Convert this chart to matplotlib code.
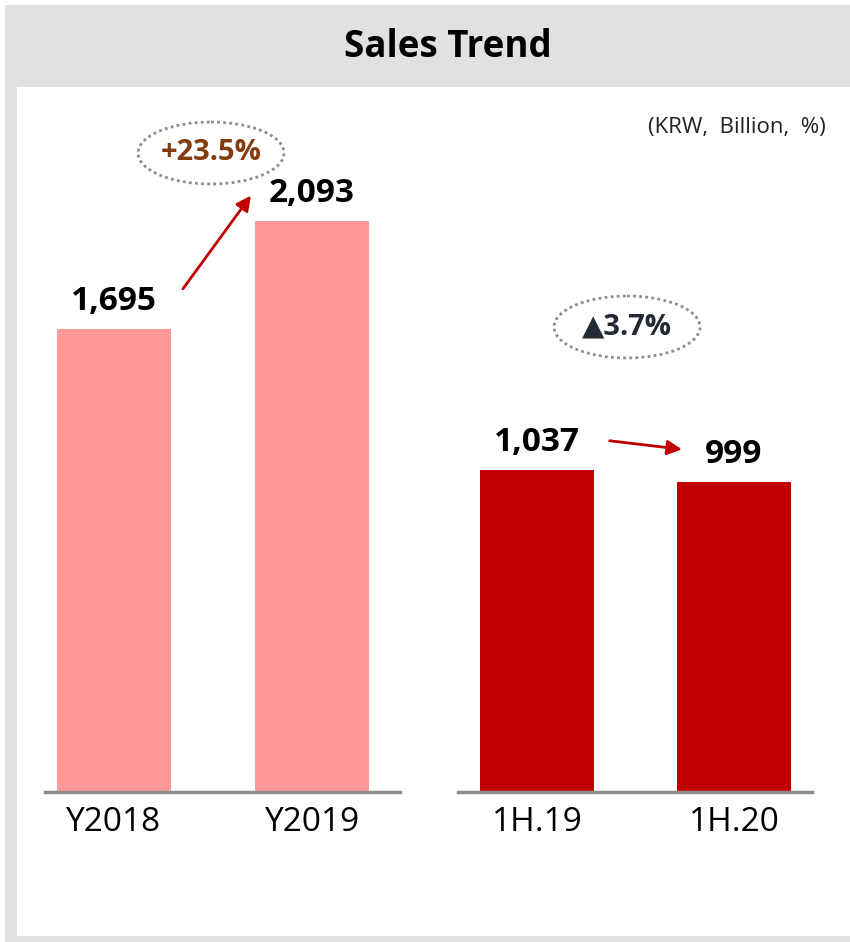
import matplotlib.pyplot as plt
from matplotlib.patches import Rectangle, Ellipse

plt.rcParams['font.family'] = ['Open Sans', 'DejaVu Sans']

# data
annual_labels = ['Y2018', 'Y2019']
annual_sales = [1695, 2093]
half_labels = ['1H.19', '1H.20']
half_sales = [1037, 999]
annual_growth = '+23.5%'
half_growth = '\u25b23.7%'

W, H = 850, 942
PINK = '#ff9999'
RED = '#c00000'
GREY_BG = '#e1e1e1'

fig = plt.figure(figsize=(W / 100, H / 100), dpi=100)
fig.patch.set_facecolor('white')

# background layer in pixel coordinates
bg = fig.add_axes([0, 0, 1, 1], zorder=0)
bg.set_xlim(0, W)
bg.set_ylim(H, 0)
bg.axis('off')
bg.add_patch(Rectangle((5, 5), W - 5, H - 5, color=GREY_BG, lw=0))
bg.add_patch(Rectangle((17, 87), W - 17, 936 - 87, color='white', lw=0))
bg.text(W / 2 + 23, 47, 'Sales Trend', ha='center', va='center',
        fontsize=26.5, fontweight='bold', color='black')
bg.text(826, 128, '(KRW,  Billion,  %)', ha='right', va='center',
        fontsize=16, color='#222222')


def px_axes(x0, x1, y_top, y_base):
    return fig.add_axes([x0 / W, 1 - y_base / H, (x1 - x0) / W, (y_base - y_top) / H],
                        zorder=2)


def bar_panel(ax, labels, values, color, xlim, ytop):
    xs = range(len(values))
    ax.bar(xs, values, width=0.578, color=color, zorder=2)
    ax.set_xlim(*xlim)
    ax.set_ylim(0, ytop)
    ax.set_facecolor('none')
    for s in ['top', 'right', 'left']:
        ax.spines[s].set_visible(False)
    ax.spines['bottom'].set_color('#8c8c8c')
    ax.spines['bottom'].set_linewidth(2.5)
    ax.set_yticks([])
    ax.set_xticks(list(xs))
    ax.set_xticklabels(labels, fontsize=24)
    ax.tick_params(axis='x', length=0, pad=10)
    for x, v in zip(xs, values):
        ax.annotate(f'{v:,}', (x, v), xytext=(0, 8), textcoords='offset points',
                    ha='center', va='bottom', fontsize=24, fontweight='bold')


ax1 = px_axes(45, 400, 100, 792)
bar_panel(ax1, annual_labels, annual_sales, PINK, (-0.348, 1.444), 2535)
ax1.annotate('', xy=(0.70, annual_sales[1] + 100), xytext=(0.34, annual_sales[0] + 140),
             arrowprops=dict(arrowstyle='-|>', color=RED, lw=2, mutation_scale=22))

ax2 = px_axes(458, 812, 100, 792)
bar_panel(ax2, half_labels, half_sales, RED, (-0.401, 1.396), 2232)
ax2.annotate('', xy=(0.75, half_sales[1] + 105), xytext=(0.355, half_sales[0] + 97),
             arrowprops=dict(arrowstyle='-|>', color=RED, lw=2, mutation_scale=22))

# growth badges
top = fig.add_axes([0, 0, 1, 1], zorder=3)
top.set_xlim(0, W)
top.set_ylim(H, 0)
top.axis('off')
for (cx, cy), txt, col in [((211, 153), annual_growth, '#843c0c'),
                           ((627, 327), half_growth, '#222a35')]:
    top.add_patch(Ellipse((cx, cy), 146, 62, fill=False, edgecolor='#8c8c8c',
                          lw=2, linestyle=(0, (1, 1.2))))
    top.text(cx, cy, txt, ha='center', va='center', fontsize=21,
             fontweight='bold', color=col)

fig.savefig('out.png', dpi=100)
